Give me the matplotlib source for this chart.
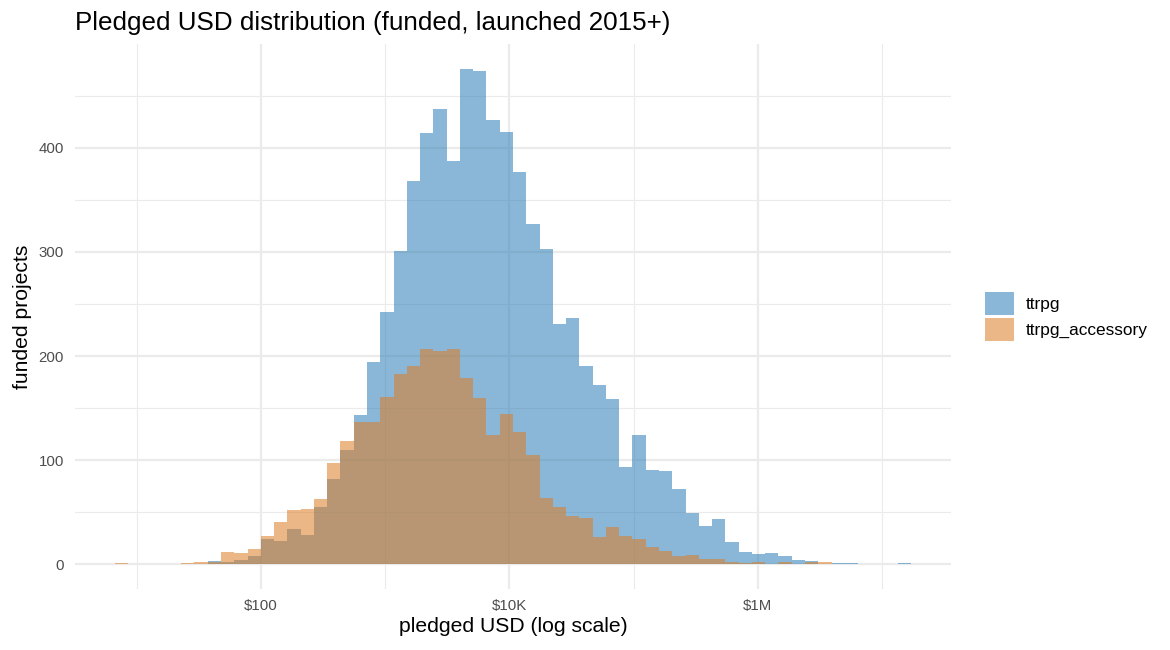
# Pledged USD histogram, two categories overlaid on a log x axis
import numpy as np
import matplotlib.pyplot as plt
from matplotlib.patches import Patch
from matplotlib.ticker import FixedLocator, NullFormatter

plt.rcParams['font.family'] = ['Liberation Sans', 'DejaVu Sans']

# Data block: 60 shared bins in log10(USD)
bin_lo_log10 = 0.825
bin_hi_log10 = 7.233
categories = ['ttrpg', 'ttrpg_accessory']
ttrpg_counts = [
    0, 0, 0, 0, 0, 0, 0, 3, 2, 4,
    8, 24, 22, 34, 28, 55, 82, 110, 143, 194,
    242, 301, 368, 414, 437, 387, 476, 474, 427, 415,
    377, 327, 303, 231, 237, 190, 172, 159, 93, 124,
    91, 90, 72, 49, 37, 43, 21, 12, 10, 11,
    8, 4, 3, 0, 1, 1, 0, 0, 0, 1,
]
accessory_counts = [
    1, 0, 0, 0, 0, 1, 2, 2, 12, 11,
    15, 27, 41, 52, 53, 63, 97, 118, 137, 137,
    161, 183, 190, 207, 205, 207, 179, 160, 124, 144,
    127, 105, 64, 55, 46, 44, 26, 36, 27, 24,
    17, 13, 8, 9, 5, 5, 2, 1, 2, 0,
    2, 0, 2, 2, 0, 0, 0, 0, 0, 0,
]
x_major = [1e2, 1e4, 1e6]
x_major_labels = ['$100', '$10K', '$1M']
x_minor = [1e1, 1e3, 1e5, 1e7]
y_major = [0, 100, 200, 300, 400]
y_minor = [50, 150, 250, 350, 450]

colors = ['#2A7DB6', '#DE7C23']
ALPHA = 0.55
edges = 10 ** np.linspace(bin_lo_log10, bin_hi_log10, len(ttrpg_counts) + 1)

fig = plt.figure(figsize=(11.7, 6.5), dpi=100, facecolor='white')
ax = fig.add_axes([75 / 1170, 1 - 589 / 650, 876 / 1170, 545 / 650])

for counts, color in zip([ttrpg_counts, accessory_counts], colors):
    ax.stairs(counts, edges, fill=True, color=color, alpha=ALPHA, linewidth=0)

# ggplot style expansion of 5% on both axes
span = bin_hi_log10 - bin_lo_log10
ax.set_xscale('log')
ax.set_xlim(10 ** (bin_lo_log10 - 0.05 * span), 10 ** (bin_hi_log10 + 0.05 * span))
ymax = max(max(ttrpg_counts), max(accessory_counts))
ax.set_ylim(-0.05 * ymax, 1.05 * ymax)

ax.xaxis.set_major_locator(FixedLocator(x_major))
ax.xaxis.set_minor_locator(FixedLocator(x_minor))
ax.xaxis.set_minor_formatter(NullFormatter())
ax.set_xticklabels(x_major_labels)
ax.yaxis.set_major_locator(FixedLocator(y_major))
ax.yaxis.set_minor_locator(FixedLocator(y_minor))

ax.grid(which='major', color='#EBEBEB', linewidth=1.6)
ax.grid(which='minor', color='#EBEBEB', linewidth=0.8)
ax.set_axisbelow(True)
for s in ax.spines.values():
    s.set_visible(False)
ax.tick_params(which='both', length=0)
ax.tick_params(axis='x', labelsize=10.8, labelcolor='#4D4D4D', pad=7)
ax.tick_params(axis='y', labelsize=10.8, labelcolor='#4D4D4D', pad=8)

ax.set_xlabel('pledged USD (log scale)', fontsize=15.2, color='black', labelpad=3)
ax.set_ylabel('funded projects', fontsize=15.2, color='black', labelpad=5)
fig.text(75 / 1170, 1 - 23 / 650, 'Pledged USD distribution (funded, launched 2015+)',
         fontsize=18.7, ha='left', va='center')

handles = [Patch(facecolor=c, alpha=ALPHA, linewidth=0) for c in colors]
fig.legend(handles, categories, loc='center left',
           bbox_to_anchor=(985 / 1170, 1 - 316.5 / 650), frameon=False,
           fontsize=12.4, borderpad=0, borderaxespad=0, handlelength=1.7,
           handleheight=1.7, labelspacing=0.12, handletextpad=0.65)

plt.savefig('out.png', dpi=100)
